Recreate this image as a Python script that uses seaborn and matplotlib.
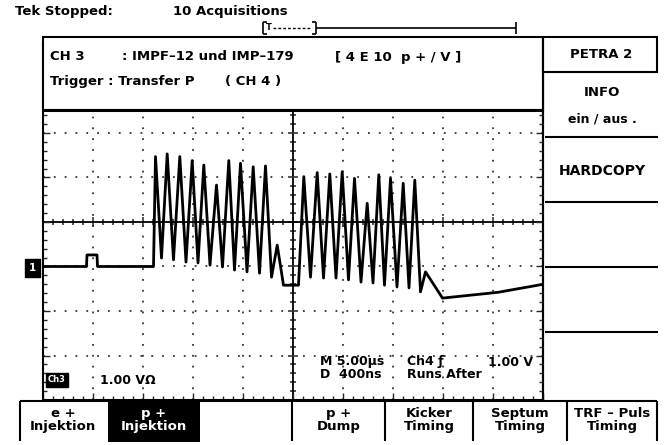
import numpy as np
import pandas as pd
import matplotlib
matplotlib.use("Agg")
import matplotlib.pyplot as plt
import seaborn as sns
from matplotlib.lines import Line2D
from matplotlib.patches import Rectangle
from matplotlib.ticker import MultipleLocator, NullFormatter

# Trace of CH 3: time in us (5 us/div), amplitude in divisions (1 V/div)
pre_t = [-25.0, -20.65, -20.6, -19.6, -19.55, -13.95]
pre_v = [-1.0, -1.0, -0.74, -0.74, -1.0, -1.0]

peak_t = [-13.75, -12.58, -11.32, -10.08, -8.92, -7.65, -6.42, -5.25, -3.98, -2.75, -1.58,
          1.08, 2.42, 3.68, 4.92, 6.15, 7.42, 8.58, 9.75, 11.02, 12.18, 13.25]
peak_v = [1.47, 1.53, 1.47, 1.38, 1.28, 0.83, 1.38, 1.32, 1.24, 1.26, -0.52,
          1.02, 1.11, 1.08, 1.13, 0.98, 0.42, 1.06, 0.98, 0.87, 0.94, -1.12]

trough_t = [-13.15, -11.95, -10.7, -9.5, -8.3, -7.05, -5.85, -4.6, -3.35, -2.15, -0.95, 0.55,
            1.75, 3.05, 4.3, 5.55, 6.8, 8.0, 9.15, 10.4, 11.6, 12.75]
trough_v = [-0.81, -0.85, -0.90, -0.92, -0.97, -1.01, -1.08, -1.12, -1.15, -1.24, -1.42, -1.42,
            -1.24, -1.26, -1.26, -1.30, -1.35, -1.37, -1.42, -1.46, -1.48, -1.57]

tail_t = [14.95, 20.5, 25.0]
tail_v = [-1.71, -1.58, -1.40]

grid_t = [-20, -15, -10, -5, 5, 10, 15, 20]
grid_v = [-3, -2, -1, 1, 2, 3]

menu_labels = ["e +\nInjektion", "p +\nInjektion", "", "p +\nDump",
               "Kicker\nTiming", "Septum\nTiming", "TRF \u2013 Puls\nTiming"]
side_labels = ["INFO", "ein / aus .", "HARDCOPY"]

trace = pd.DataFrame({
    "t": pre_t + peak_t + trough_t + tail_t,
    "v": pre_v + peak_v + trough_v + tail_v,
}).sort_values("t")

sns.set_style("white")
plt.rcParams['font.family'] = ['DejaVu Sans']

W, H = 664, 445


def fx(x):
    return x / W


def fy(y):
    return 1 - y / H


def fig_line(x0, y0, x1, y1, lw=1.5, **kw):
    fig.add_artist(Line2D([fx(x0), fx(x1)], [fy(y0), fy(y1)], transform=fig.transFigure,
                          color="black", lw=lw, zorder=11, solid_capstyle="butt", **kw))


def fig_text(x, y, s, size=9.5, ha="left", color="black", **kw):
    fig.text(fx(x), fy(y), s, ha=ha, va="center", fontsize=size, fontweight="bold",
             color=color, zorder=12, linespacing=1.0, **kw)


fig = plt.figure(figsize=(6.64, 4.45), dpi=100)
fig.patch.set_facecolor("white")

# graticule: 10 x 8 divisions
ax = fig.add_axes([fx(43), fy(400), (543 - 43) / W, (400 - 44) / H])
ax2 = fig.add_axes(ax.get_position())
ax.set_zorder(2)
ax2.set_zorder(1)
ax.set_facecolor("none")

for a in (ax, ax2):
    a.set_xlim(-25, 25)
    a.set_ylim(-4, 4)
    a.xaxis.set_major_locator(MultipleLocator(5))
    a.xaxis.set_minor_locator(MultipleLocator(1))
    a.yaxis.set_major_locator(MultipleLocator(1))
    a.yaxis.set_minor_locator(MultipleLocator(0.2))
    a.xaxis.set_major_formatter(NullFormatter())
    a.yaxis.set_major_formatter(NullFormatter())

for t in grid_t:
    ax.axvline(t, color="#333333", lw=1.3, ls=(0, (1, 5)), zorder=1)
for v in grid_v:
    ax.axhline(v, color="#333333", lw=1.3, ls=(0, (1, 5)), zorder=1)

sns.lineplot(data=trace, x="t", y="v", ax=ax, color="black", linewidth=2.0,
             estimator=None, zorder=3)
ax.set_xlabel("")
ax.set_ylabel("")

ax.tick_params(which="major", direction="in", length=5, width=1, top=True, right=True,
               bottom=True, left=True)
ax.tick_params(which="minor", direction="in", length=3, width=1, top=True, right=True,
               bottom=True, left=True)
for s in ax.spines.values():
    s.set_linewidth(1.5)
    s.set_color("black")

# centre cross with its minor ticks
ax2.patch.set_visible(False)
ax2.spines["left"].set_position(("data", 0))
ax2.spines["bottom"].set_position(("data", 0))
ax2.spines["top"].set_visible(False)
ax2.spines["right"].set_visible(False)
for s in ("left", "bottom"):
    ax2.spines[s].set_linewidth(1.3)
    ax2.spines[s].set_color("black")
ax2.tick_params(which="major", direction="inout", length=7, width=1.1,
                bottom=True, left=True, top=False, right=False)
ax2.tick_params(which="minor", direction="inout", length=5, width=1.1,
                bottom=True, left=True, top=False, right=False)

# header overlay
fig.add_artist(Rectangle((fx(43), fy(110)), (543 - 43) / W, (110 - 37) / H,
                         transform=fig.transFigure, facecolor="white", edgecolor="black",
                         lw=1.5, zorder=10))
fig_line(43, 110, 543, 110, lw=2.2)
fig_text(50, 57, "CH 3")
fig_text(122, 57, ": IMPF\u201312 und IMP\u2013179")
fig_text(335, 57, "[ 4 E 10  p + / V ]")
fig_text(50, 82, "Trigger : Transfer P")
fig_text(225, 82, "( CH 4 )")

# status line and record view bracket
fig_text(15, 12, "Tek Stopped:", size=9.5)
fig_text(173, 12, "10 Acquisitions", size=9.5)
fig_line(263, 22, 263, 34, lw=1.2)
fig_line(263, 22, 267, 22, lw=1.2)
fig_line(263, 34, 267, 34, lw=1.2)
fig_line(316, 22, 316, 34, lw=1.2)
fig_line(312, 22, 316, 22, lw=1.2)
fig_line(312, 34, 316, 34, lw=1.2)
fig_line(273, 28, 312, 28, lw=1.0, linestyle=(0, (2, 1.5)))
fig_text(266, 28, "T", size=6)
fig_line(316, 28, 516, 28, lw=1.2)
fig_line(516, 22, 516, 34, lw=1.2)

# right hand menu
fig_line(543, 37, 543, 400, lw=1.5)
fig.add_artist(Rectangle((fx(543), fy(72)), (657 - 543) / W, (72 - 37) / H,
                         transform=fig.transFigure, facecolor="white", edgecolor="black",
                         lw=1.5, zorder=10))
fig_text(601, 54, "PETRA 2", ha="center")
fig_text(602, 92, side_labels[0], ha="center")
fig_text(602, 119, side_labels[1], ha="center", size=9)
fig_text(602, 171, side_labels[2], ha="center", size=10)
for y in [137, 202, 267, 332]:
    fig_line(545, y, 658, y, lw=1.5)

# readouts inside the graticule
fig_text(29, 268, "1", size=7.5, color="white",
         bbox=dict(boxstyle="square,pad=0.35", fc="black", ec="black"))
fig_text(48, 380, "Ch3", size=6, color="white",
         bbox=dict(boxstyle="square,pad=0.3", fc="black", ec="black"))
fig_text(100, 380, "1.00 V\u03a9", size=9)
fig_text(320, 362, "M 5.00\u00b5s", size=9)
fig_text(407, 362, "Ch4 \u0192", size=9)
fig_text(488, 362, "1.00 V", size=9)
fig_text(320, 374, "D  400ns", size=9)
fig_text(407, 374, "Runs After", size=9)

# bottom menu
fig_line(20, 401, 657, 401, lw=1.5)
fig.add_artist(Rectangle((fx(108), fy(442)), (200 - 108) / W, (442 - 401) / H,
                         transform=fig.transFigure, facecolor="black", edgecolor="black",
                         lw=0, zorder=10))
for x in [20, 292, 385, 473, 567, 657]:
    fig_line(x, 401, x, 441, lw=1.5)
menu_x = [63, 154, 246, 339, 429, 520, 612]
for x, label in zip(menu_x, menu_labels):
    fig_text(x, 420, label, size=9.5, ha="center",
             color="white" if label.startswith("p +\nInj") else "black")

fig.savefig("out.png", dpi=100)
